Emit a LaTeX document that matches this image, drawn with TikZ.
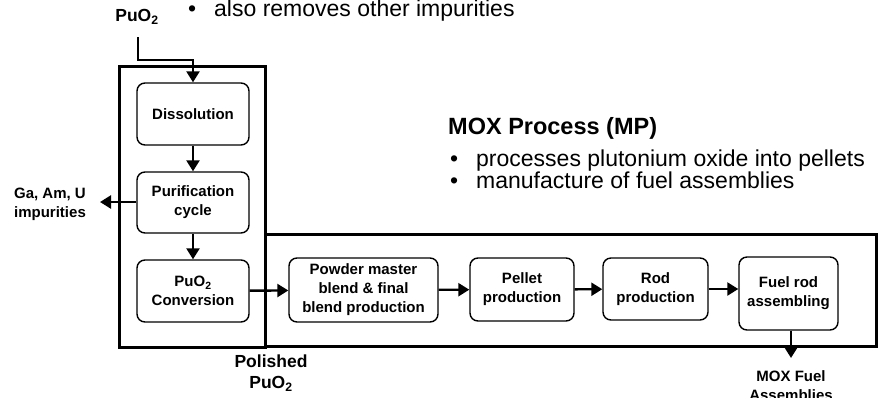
\documentclass[tikz,border=0pt]{standalone}
\usepackage{fontspec}
\setmainfont{Liberation Sans}
\usetikzlibrary{arrows.meta}
\tikzset{
  stepbox/.style={draw, line width=1.4pt, rounded corners=8pt, align=center,
    inner sep=0pt, font=\fontsize{15}{19}\selectfont\bfseries},
  frame/.style={line width=3pt},
  arr/.style={line width=2.4pt, -{Triangle[length=11pt,width=13pt]}},
  lbl/.style={align=center, inner sep=0pt, font=\fontsize{15}{19}\selectfont\bfseries},
  biglbl/.style={align=center, inner sep=0pt, font=\fontsize{17.5}{21}\selectfont\bfseries},
  bullettext/.style={anchor=west, inner sep=0pt, font=\fontsize{23}{27}\selectfont},
}
\newcommand{\puo}{PuO\textsubscript{2}}
\newcommand{\bul}{\makebox[26pt][l]{•}}
\begin{document}
\begin{tikzpicture}[x=1pt, y=-1pt]
  \useasboundingbox (0,0) rectangle (882,397);

  % frames of the two plants
  \draw[frame] (119,66) rectangle (265,347);
  \draw[frame] (265,234) rectangle (876,346);

  % aqueous polishing steps
  \node[stepbox, minimum width=112pt, minimum height=62pt] (diss) at (193,114) {Dissolution};
  \node[stepbox, minimum width=112pt, minimum height=61pt] (puri) at (193,202.5) {Purification\\cycle};
  \node[stepbox, minimum width=112pt, minimum height=62pt] (conv) at (193,291) {\puo\\Conversion};

  % MOX process steps
  \node[stepbox, minimum width=149pt, minimum height=64pt] (powder) at (363.5,290) {Powder master\\blend \& final\\blend production};
  \node[stepbox, minimum width=104pt, minimum height=63pt] (pellet) at (522,289.5) {Pellet\\production};
  \node[stepbox, minimum width=105pt, minimum height=62pt] (rod) at (655.5,289) {Rod\\production};
  \node[stepbox, minimum width=99pt, minimum height=73pt] (fuel) at (788.5,293.5) {Fuel rod\\assembling};

  % labels
  \node[biglbl] (pin) at (137,17) {\puo};
  \node[lbl] (imp) at (50,204) {Ga, Am, U\\impurities};
  \node[biglbl] (pol) at (271,373) {Polished\\\puo};
  \node[lbl] (mox) at (791,386) {MOX Fuel\\Assemblies};

  \node[bullettext] (top) at (188,11) {\bul also removes other impurities};
  \node[anchor=west, inner sep=0pt, font=\fontsize{23.5}{27}\selectfont\bfseries] (title) at (448,128) {MOX Process (MP)};
  \node[bullettext] (b1) at (450,161) {\bul processes plutonium oxide into pellets};
  \node[bullettext] (b2) at (450,180) {\bul manufacture of fuel assemblies};

  % connectors
  \coordinate (feed) at (138,37);
  \coordinate (bend) at (138,60);
  \coordinate (impend) at (100,202);
  \coordinate (out) at (791,358);
  \draw[arr] (feed) -- (bend) -| (diss.north);
  \draw[arr] (diss) -- (puri);
  \draw[arr] (puri) -- (conv);
  \draw[arr] (puri.west |- impend) -- (impend);
  \draw[arr] (conv) -- (powder);
  \draw[arr] (powder) -- (pellet);
  \draw[arr] (pellet) -- (rod);
  \draw[arr] (rod) -- (fuel.west |- rod);
  \draw[arr] (fuel.south -| out) -- (out);
\end{tikzpicture}
\end{document}
